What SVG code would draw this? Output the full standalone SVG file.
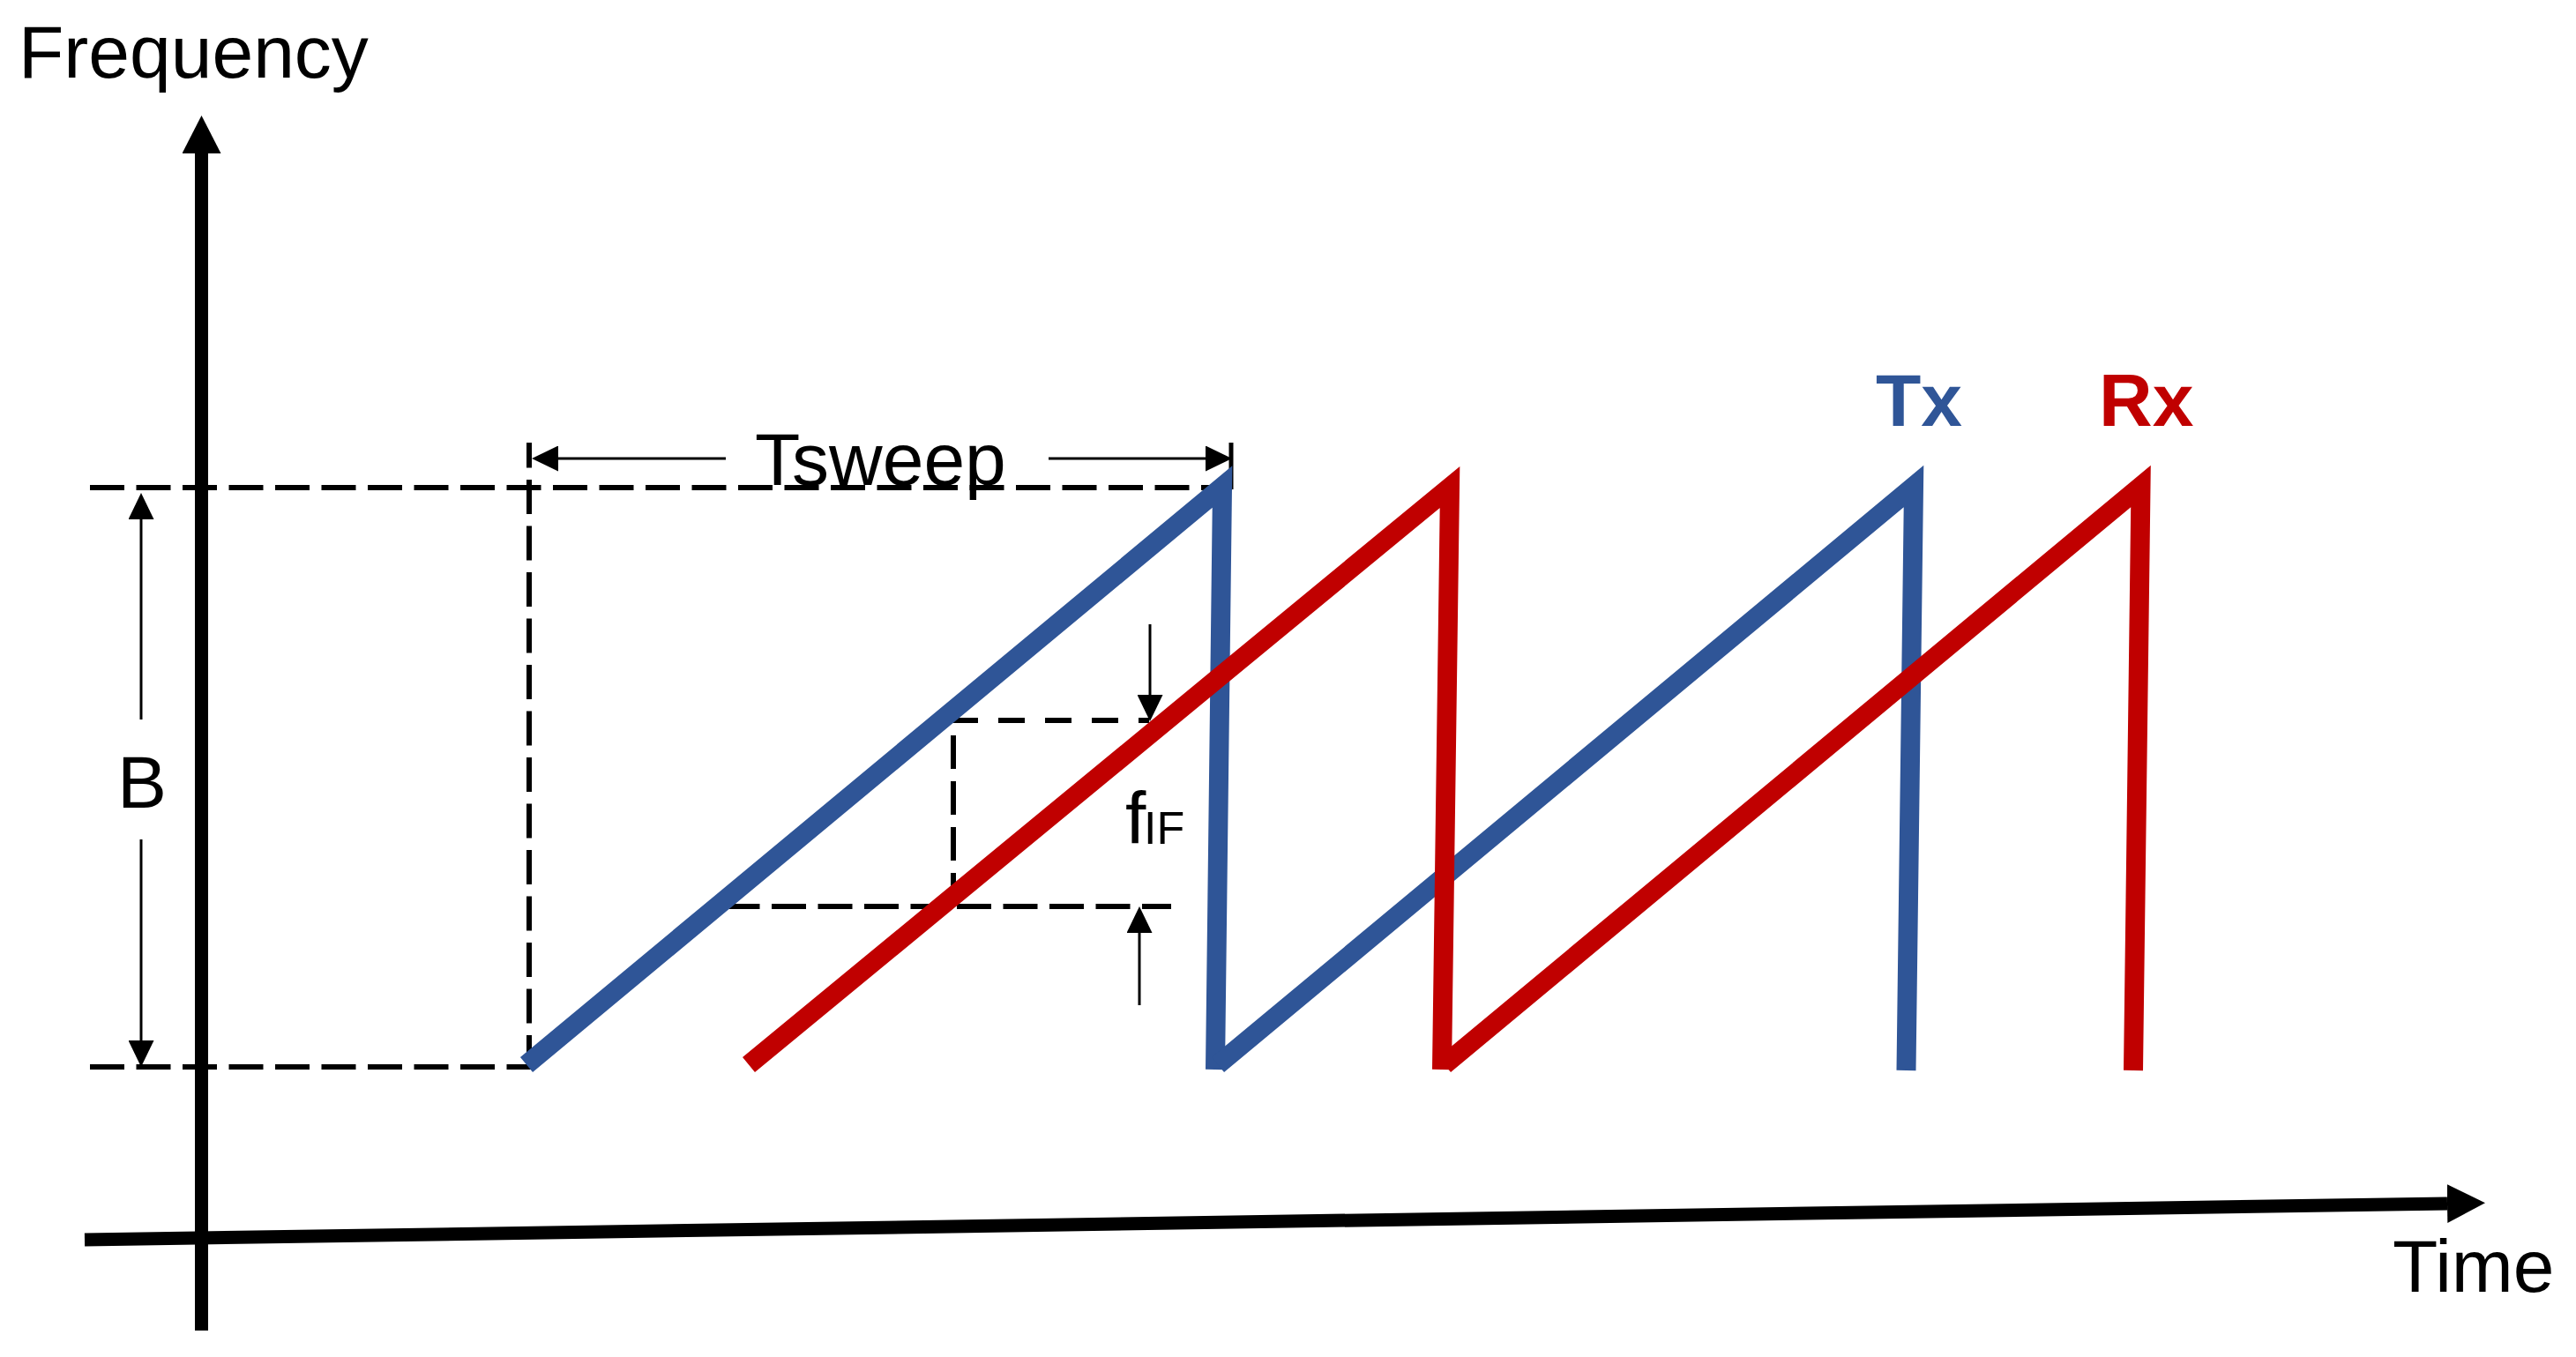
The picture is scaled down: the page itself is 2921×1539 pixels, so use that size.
<svg xmlns="http://www.w3.org/2000/svg" width="2921" height="1539" viewBox="0 0 2921 1539">
<style>
text{font-family:"Liberation Sans",Arial,sans-serif;font-size:84px;fill:#000}
.dash{stroke:#000;stroke-width:6;fill:none;stroke-dasharray:39 13.5}
.dash2{stroke:#000;stroke-width:6;fill:none;stroke-dasharray:30 23}
.thin{stroke:#000;stroke-width:3;fill:none;marker-end:url(#ah)}
.axis{stroke:#000;stroke-width:15;fill:none;marker-end:url(#axh)}
.tx{stroke:#2F5597;stroke-width:22;fill:none;stroke-linejoin:miter;stroke-linecap:butt}
.rx{stroke:#C00000;stroke-width:22;fill:none;stroke-linejoin:miter;stroke-linecap:butt}
</style>
<defs>
<marker id="ah" markerUnits="userSpaceOnUse" viewBox="0 0 30 29" refX="0" refY="14.5" markerWidth="30" markerHeight="29" orient="auto">
<polygon points="0,0 30,14.5 0,29" fill="#000"/>
</marker>
<marker id="axh" markerUnits="userSpaceOnUse" viewBox="0 0 43 44" refX="0" refY="22" markerWidth="43" markerHeight="44" orient="auto">
<polygon points="0,0 43,22 0,44" fill="#000"/>
</marker>
</defs>
<rect width="2921" height="1539" fill="#fff"/>

<g id="guides">
<line class="dash" x1="102" y1="553" x2="1397" y2="553"/>
<line class="dash" x1="102" y1="1210" x2="600" y2="1210"/>
<line class="dash" x1="600" y1="1213" x2="600" y2="502"/>
<line class="dash2" x1="1079" y1="817" x2="1303" y2="817"/>
<line class="dash" style="stroke-dasharray:38 14" x1="1081" y1="1028" x2="1081" y2="817"/>
<line class="dash" x1="822.5" y1="1028" x2="1328" y2="1028"/>
<line x1="1396" y1="502" x2="1396" y2="555" stroke="#000" stroke-width="5"/>
</g>

<g id="signals">
<polyline id="tx1" class="tx" points="597,1207.5 1386,552 1378,1213"/>
<polyline id="tx2" class="tx" points="1381,1207.5 2170,551.5 2161.5,1214"/>
<polyline id="rx1" class="rx" points="849,1207.5 1644,552.5 1635,1213"/>
<polyline id="rx2" class="rx" points="1638,1207.5 2427.5,551.5 2419,1214"/>
</g>

<g id="axes">
<line id="y-axis" class="axis" x1="228.5" y1="1509" x2="228.5" y2="174"/>
<line id="x-axis" class="axis" x1="96" y1="1406" x2="2775" y2="1365"/>
</g>

<g id="connectors">
<line class="thin" x1="823" y1="520" x2="633" y2="520"/>
<line class="thin" x1="1189" y1="520" x2="1367" y2="520"/>
<line class="thin" x1="160" y1="816" x2="160" y2="589"/>
<line class="thin" x1="160" y1="952" x2="160" y2="1180"/>
<line class="thin" x1="1304" y1="708" x2="1304" y2="788"/>
<line class="thin" x1="1292" y1="1140" x2="1292" y2="1058"/>
</g>

<g id="labels">
<text id="freq" x="21" y="88">Frequency</text>
<text id="time" x="2713" y="1465">Time</text>
<text id="tsweep" x="856" y="550">Tsweep</text>
<text id="b" x="161" y="916" text-anchor="middle">B</text>
<text id="fif" x="1276" y="957">f<tspan x="1297" style="font-size:52px">IF</tspan></text>
<text id="txl" x="2127" y="483" style="font-weight:bold;fill:#2F5597">Tx</text>
<text id="rxl" x="2380" y="483" style="font-weight:bold;fill:#C00000">Rx</text>
</g>
</svg>
